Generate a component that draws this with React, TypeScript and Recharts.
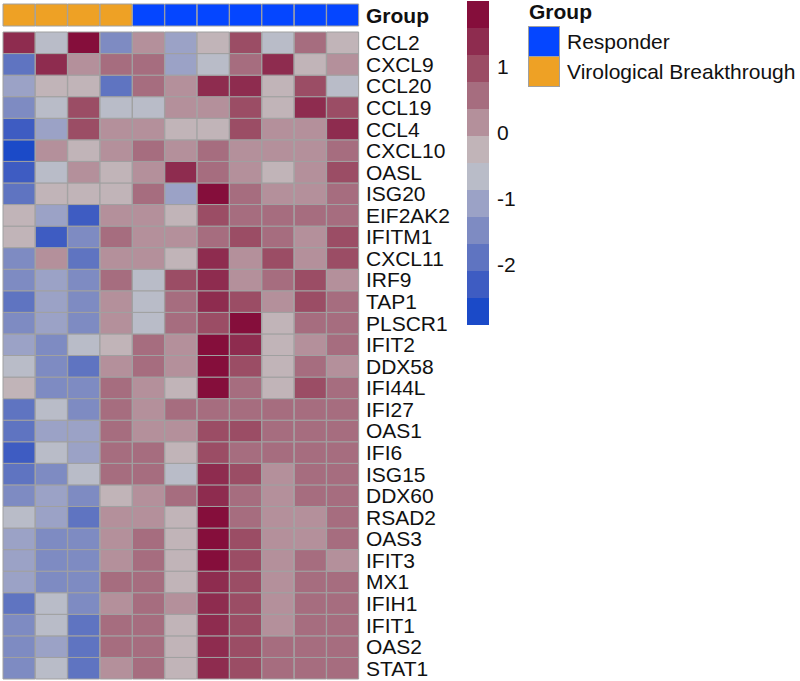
import React from "react";
import { BarChart, Bar, XAxis, YAxis, Cell } from "recharts";

// samples (columns), left to right
const samples = ["VB1", "VB2", "VB3", "VB4", "R1", "R2", "R3", "R4", "R5", "R6", "R7"];
const sampleGroup = ["VB", "VB", "VB", "VB", "R", "R", "R", "R", "R", "R", "R"];

// genes (rows), top to bottom
const genes = [
  "CCL2", "CXCL9", "CCL20", "CCL19", "CCL4", "CXCL10", "OASL", "ISG20", "EIF2AK2", "IFITM1",
  "CXCL11", "IRF9", "TAP1", "PLSCR1", "IFIT2", "DDX58", "IFI44L", "IFI27", "OAS1", "IFI6",
  "ISG15", "DDX60", "RSAD2", "OAS3", "IFIT3", "MX1", "IFIH1", "IFIT1", "OAS2", "STAT1",
];

// scaled expression (z-score), one row per gene
const zScores = [
  [1.4, -0.65, 1.8, -1.5, 0.2, -1.05, -0.25, 1.0, -0.65, 0.6, -0.25],
  [-1.9, 1.4, 0.2, 0.6, 0.6, -1.05, -0.65, 0.6, 1.4, -0.25, 0.2],
  [-1.05, -0.25, -0.25, -1.9, 0.6, 0.2, 1.4, 1.4, -0.25, 1.0, -0.65],
  [-1.5, -0.65, 1.0, -0.65, -0.65, 0.2, 0.2, 1.0, -0.25, 1.4, 1.0],
  [-2.3, -1.05, 1.0, 0.2, 0.2, -0.25, -0.25, 1.0, 0.2, 0.2, 1.4],
  [-2.7, 0.2, -0.25, 0.2, 0.6, 0.2, 0.6, 0.2, 0.2, 0.2, 0.6],
  [-2.3, -0.65, 0.2, -0.25, 0.2, 1.4, 0.6, 0.2, -0.25, 0.2, 1.0],
  [-1.9, -0.25, -0.25, -0.25, 0.6, -1.05, 1.8, 0.6, 0.2, 0.2, 0.6],
  [-0.25, -1.05, -2.3, 0.2, 0.2, -0.25, 1.0, 0.6, 0.6, 0.6, 0.6],
  [-0.25, -2.3, -1.5, 0.6, 0.2, 0.2, 0.6, 1.0, 0.6, 0.2, 1.0],
  [-1.5, 0.2, -1.9, 0.2, 0.2, -0.25, 1.4, 0.2, 1.0, 0.2, 1.0],
  [-1.5, -1.05, -1.5, 0.6, -0.65, 1.0, 1.4, 0.2, 0.6, 1.0, 0.2],
  [-1.9, -1.05, -1.5, 0.2, -0.65, 0.6, 1.4, 1.0, 0.2, 1.0, 0.6],
  [-1.5, -1.05, -1.5, 0.2, -0.65, 0.6, 1.0, 1.8, -0.25, 0.6, 0.6],
  [-1.05, -1.5, -0.65, -0.25, 0.6, 0.2, 1.8, 1.4, -0.25, 0.2, 0.6],
  [-0.65, -1.5, -1.9, 0.2, 0.6, 0.2, 1.8, 1.0, -0.25, 0.6, 0.2],
  [-0.25, -1.5, -1.5, 0.6, 0.2, -0.25, 1.8, 0.6, -0.25, 1.0, 0.6],
  [-1.9, -0.65, -1.5, 0.6, 0.2, 0.6, 0.6, 0.6, 0.6, 0.6, 0.6],
  [-1.9, -1.05, -1.05, 0.6, 0.2, 0.2, 1.0, 1.0, 0.6, 0.6, 0.6],
  [-2.3, -0.65, -1.05, 0.6, 0.6, -0.25, 1.0, 0.6, 0.6, 0.6, 0.6],
  [-1.9, -1.5, -0.65, 0.6, 0.6, -0.65, 1.4, 1.0, 0.2, 0.6, 0.6],
  [-1.5, -1.05, -1.5, -0.25, 0.2, 0.6, 1.4, 0.6, 0.2, 0.6, 0.6],
  [-0.65, -1.05, -1.9, 0.2, 0.2, -0.25, 1.8, 0.6, 0.2, 0.2, 0.6],
  [-1.05, -1.5, -1.5, 0.2, 0.6, -0.25, 1.8, 1.0, 0.2, 0.2, 0.6],
  [-1.05, -1.5, -1.5, 0.2, 0.6, -0.25, 1.8, 1.0, 0.2, 0.6, 0.2],
  [-1.05, -1.5, -1.5, 0.6, 0.6, -0.25, 1.4, 1.0, 0.2, 0.6, 0.6],
  [-1.9, -0.65, -1.5, 0.2, 0.6, 0.2, 1.4, 1.0, 0.2, 0.6, 0.6],
  [-1.5, -0.65, -1.9, 0.6, 0.6, -0.25, 1.4, 1.0, 0.2, 0.6, 0.6],
  [-1.5, -1.05, -1.9, 0.6, 0.6, -0.25, 1.4, 1.0, 0.6, 0.6, 0.6],
  [-1.5, -0.65, -1.9, 0.2, 0.6, -0.25, 1.4, 1.0, 0.6, 0.6, 0.6],
];

// colour scale: 12 bins from low to high
const scaleMin = -2.91;
const scaleMax = 2.0;
const binColors = [
  "#1b4ac8", "#3e5cc2", "#5f74c1", "#7e8bc2", "#9ba2c6", "#b9bcc8",
  "#c1b4b8", "#b4909b", "#a66d7f", "#9b4d65", "#8e2c4f", "#850e3b",
];
const scaleTicks = [-2, -1, 0, 1];

const groupColors: Record<string, string> = { R: "#0546ff", VB: "#eea125" };

const FONT = "'Liberation Sans', Arial, sans-serif";
const BORDER = "#a0a0a0";
const FS = 21;

const binWidth = (scaleMax - scaleMin) / binColors.length;
const colorOf = (v: number) => {
  let i = Math.floor((v - scaleMin) / binWidth);
  i = Math.max(0, Math.min(binColors.length - 1, i));
  return binColors[i];
};

// rows are stacked bottom-up, so the last gene goes first
const stackOrder = genes.map((g, i) => i).reverse();

const heatData = samples.map((s) => {
  const row: any = { sample: s };
  genes.forEach((g) => (row[g] = 1));
  return row;
});

const groupData = samples.map((s) => ({ sample: s, one: 1 }));

const barData = [
  binColors.reduce(
    (acc: any, c, i) => {
      acc["b" + i] = binWidth;
      return acc;
    },
    { name: "scale", base: scaleMin }
  ),
];

const App = () => {
  return (
    <div style={{ position: "absolute", left: 0, top: 0, width: 800, height: 681, overflow: "hidden", background: "#fff", fontFamily: FONT }}>
      {/* group annotation bar */}
      <div style={{ position: "absolute", left: 2, top: 3 }}>
        <BarChart width={358} height={24} data={groupData} margin={{ top: 1, right: 1, bottom: 1, left: 1 }} barCategoryGap={0} barGap={0}>
          <XAxis dataKey="sample" hide />
          <YAxis hide domain={[0, 1]} />
          <Bar dataKey="one" isAnimationActive={false}>
            {groupData.map((d, j) => (
              <Cell key={j} fill={groupColors[sampleGroup[j]]} stroke={BORDER} strokeWidth={1} />
            ))}
          </Bar>
        </BarChart>
      </div>
      <div style={{ position: "absolute", left: 366, top: 5, fontSize: FS, fontWeight: "bold", lineHeight: "22px", color: "#111", whiteSpace: "nowrap" }}>Group</div>

      {/* heatmap */}
      <div style={{ position: "absolute", left: 2, top: 31 }}>
        <BarChart width={457} height={649} data={heatData} margin={{ top: 1, right: 0, bottom: 1, left: 1 }} barCategoryGap={0} barGap={0}>
          <XAxis dataKey="sample" hide />
          <YAxis
            type="number"
            orientation="right"
            domain={[0, genes.length]}
            ticks={genes.map((g, i) => i + 0.5)}
            interval={0}
            tickFormatter={(v: number) => genes[genes.length - 1 - Math.floor(v)]}
            axisLine={false}
            tickLine={false}
            tickSize={5}
            tick={{ fontSize: FS, fill: "#111", fontFamily: FONT, textAnchor: "start" }}
            width={100}
          />
          {stackOrder.map((gi) => (
            <Bar key={genes[gi]} dataKey={genes[gi]} stackId="heat" isAnimationActive={false}>
              {samples.map((s, j) => (
                <Cell key={j} fill={colorOf(zScores[gi][j])} stroke={BORDER} strokeWidth={1} />
              ))}
            </Bar>
          ))}
        </BarChart>
      </div>

      {/* colour key */}
      <div style={{ position: "absolute", left: 467, top: 1 }}>
        <BarChart width={62} height={324} data={barData} margin={{ top: 0, right: 0, bottom: 0, left: 0 }} barCategoryGap={0}>
          <XAxis dataKey="name" hide />
          <YAxis
            type="number"
            orientation="right"
            domain={[scaleMin, scaleMax]}
            ticks={scaleTicks}
            axisLine={false}
            tickLine={false}
            tick={{ fontSize: FS, fill: "#111", fontFamily: FONT, textAnchor: "start" }}
            width={40}
            allowDataOverflow
          />
          <Bar dataKey="base" stackId="key" fill="none" isAnimationActive={false} />
          {binColors.map((c, i) => (
            <Bar key={i} dataKey={"b" + i} stackId="key" fill={c} isAnimationActive={false} />
          ))}
        </BarChart>
      </div>

      {/* group legend */}
      <div style={{ position: "absolute", left: 529, top: 1, fontSize: FS, fontWeight: "bold", lineHeight: "22px", color: "#111", whiteSpace: "nowrap" }}>Group</div>
      {["R", "VB"].map((g, i) => (
        <div key={g} style={{ position: "absolute", left: 528, top: 26 + i * 30, display: "flex", alignItems: "center", whiteSpace: "nowrap" }}>
          <div style={{ width: 30, height: 29, background: groupColors[g], border: "1px solid " + BORDER }} />
          <div style={{ marginLeft: 7, fontSize: FS, lineHeight: "22px", color: "#111" }}>{g === "R" ? "Responder" : "Virological Breakthrough"}</div>
        </div>
      ))}
    </div>
  );
};

export default App;
